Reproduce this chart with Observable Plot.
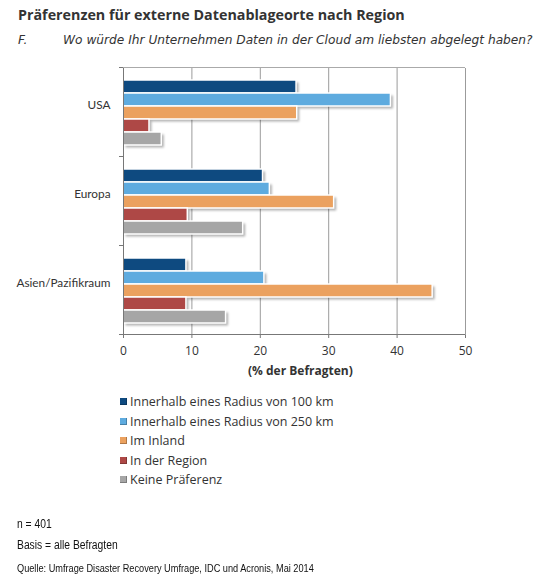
<!DOCTYPE html>
<html><head><meta charset="utf-8">
<script src="https://cdn.jsdelivr.net/npm/d3@7"></script>
<script src="https://cdn.jsdelivr.net/npm/@observablehq/plot@0.6"></script>
<style>
body{margin:0;width:540px;height:587px;position:relative;background:#fff;color:#333;overflow:hidden;font-family:"Open Sans",sans-serif}
.abs{position:absolute;white-space:nowrap;line-height:1}
#chart{position:absolute;left:0;top:50px}
.leg{position:absolute;left:120px;font:12.5px "Open Sans",sans-serif;color:#333;white-space:nowrap;line-height:1}
.leg i{display:inline-block;width:7px;height:7px;margin-right:3px;vertical-align:1px;box-shadow:inset -1px -1px 0 rgba(0,0,0,0.25)}
.foot{position:absolute;left:17px;font-family:"Liberation Sans",sans-serif;color:#111;white-space:nowrap;line-height:1;transform:scaleX(0.86);transform-origin:0 0}
</style></head><body>
<div class="abs" style="left:18px;top:5px;font:bold 14.3px 'Open Sans',sans-serif;color:#333">Präferenzen für externe Datenablageorte nach Region</div>
<div class="abs" style="left:18px;top:33px;font:italic 12.2px 'DejaVu Sans',sans-serif;color:#333">F.</div>
<div class="abs" style="left:63px;top:33px;font:italic 12.2px 'DejaVu Sans',sans-serif;color:#333">Wo würde Ihr Unternehmen Daten in der Cloud am liebsten abgelegt haben?</div>
<div id="chart"></div>
<div class="abs" id="xlabel" style="left:248px;top:362px;font:bold 12px 'Open Sans',sans-serif;color:#333">(% der Befragten)</div>
<div id="legend"></div>
<div class="foot" style="top:518px;font-size:12px">n = 401</div>
<div class="foot" style="top:539px;font-size:12px">Basis = alle Befragten</div>
<div class="foot" style="top:563px;font-size:10.7px">Quelle: Umfrage Disaster Recovery Umfrage, IDC und Acronis, Mai 2014</div>
<script>
const regions = ["USA", "Europa", "Asien/Pazifikraum"];
const series = ["Innerhalb eines Radius von 100 km", "Innerhalb eines Radius von 250 km", "Im Inland", "In der Region", "Keine Präferenz"];
const seriesColors = ["#0e4a80", "#5eabdf", "#eba15f", "#ae4846", "#a6a6a6"];
const usaValues = [25.3, 39.1, 25.4, 3.8, 5.6];
const europaValues = [20.4, 21.4, 30.8, 9.4, 17.5];
const asienValues = [9.2, 20.6, 45.2, 9.2, 15.0];
const xTicks = [0, 10, 20, 30, 40, 50];

const byRegion = [usaValues, europaValues, asienValues];
const data = [];
regions.forEach((r, i) => series.forEach((s, j) => data.push({region: r, series: s, value: byRegion[i][j]})));

const plot = Plot.plot({
  width: 540, height: 320,
  marginTop: 17, marginBottom: 35, marginLeft: 123, marginRight: 75,
  style: {fontFamily: "'Open Sans', sans-serif", color: "#333", background: "transparent"},
  x: {domain: [0, 50], ticks: xTicks, label: null},
  y: {domain: series, axis: null, paddingInner: 0, paddingOuter: 0.83},
  fy: {domain: regions, padding: 0, label: null, axis: null},
  color: {domain: series, range: seriesColors},
  marks: [
    Plot.gridX(xTicks.slice(1), {stroke: "#9b9b9b", strokeOpacity: 1}),
    Plot.barX(data, {x: "value", y: "series", fy: "region", fill: "#000", fillOpacity: 0.3, dx: 2.5, dy: 2.5, className: "shadow"}),
    Plot.barX(data, {x: "value", y: "series", fy: "region", fill: "series", stroke: "white", strokeWidth: 1.5}),
    Plot.ruleX([0], {stroke: "#777"}),
    Plot.axisX({ticks: xTicks, tickSize: 3, tickPadding: 8, fontSize: 12, stroke: "#777", label: null}),
    Plot.text(regions, {fy: d => d, text: d => d, frameAnchor: "left", textAnchor: "end", dx: -13, dy: -8,
      fontSize: 11.8, fontFamily: "Lato, sans-serif", fill: "#333"})
  ]
});
document.getElementById("chart").appendChild(plot);

// decorations derived from the scales
(function () {
  const svgNode = plot.tagName.toLowerCase() === "svg" ? plot : plot.querySelector("svg");
  const svg = d3.select(svgNode);
  const xs = plot.scale("x");
  const fys = plot.scale("fy");
  const x0 = xs.apply(0), x1 = xs.apply(50);
  const fyTop = fys.range[0], fyBottom = fys.range[1];
  const defs = svg.append("defs");
  defs.append("filter").attr("id", "blur").attr("x", "-20%").attr("y", "-50%").attr("width", "140%").attr("height", "200%")
    .append("feGaussianBlur").attr("stdDeviation", 1.1);
  svg.selectAll("g.shadow").attr("filter", "url(#blur)");
  svg.append("line").attr("x1", x0).attr("x2", x1).attr("y1", fyTop + 0.5).attr("y2", fyTop + 0.5).attr("stroke", "#aaa");
  svg.append("line").attr("x1", x0).attr("x2", x1).attr("y1", fyBottom - 0.5).attr("y2", fyBottom - 0.5).attr("stroke", "#777");
  const bounds = regions.map(r => fys.apply(r)).concat([fyBottom]);
  bounds.forEach(b => svg.append("line").attr("x1", x0 - 4).attr("x2", x0).attr("y1", b - 0.5).attr("y2", b - 0.5).attr("stroke", "#777"));
})();

// legend
const leg = document.getElementById("legend");
const legTops = [396, 416, 435, 455, 474];
series.forEach((s, i) => {
  const d = document.createElement("div");
  d.className = "leg";
  d.style.top = legTops[i] + "px";
  d.innerHTML = `<i style="background:${seriesColors[i]}"></i>${s}`;
  leg.appendChild(d);
});
</script>
</body></html>
